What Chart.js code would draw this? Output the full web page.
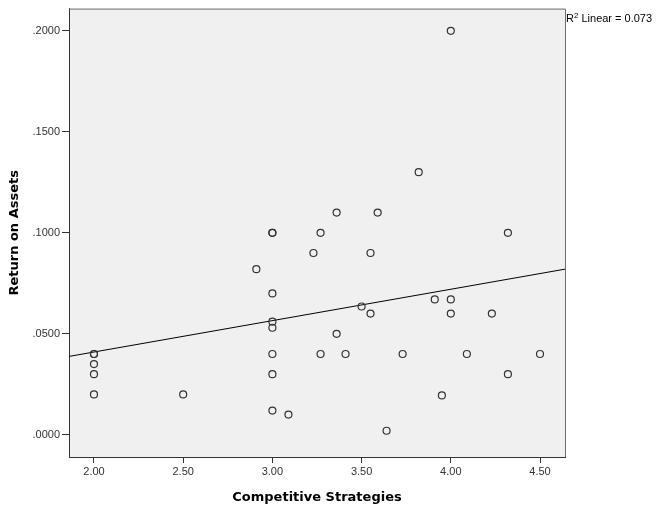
<!DOCTYPE html>
<html>
<head>
<meta charset="utf-8">
<script src="https://cdn.jsdelivr.net/npm/chart.js@4"></script>
<style>
  html, body { margin: 0; padding: 0; background: #fff; }
  #wrap { width: 656px; height: 508px; }
</style>
</head>
<body>
<div id="wrap"><canvas id="roaChart" width="656" height="508"></canvas></div>
<script>
// Competitive Strategies vs Return on Assets
var strategyScores = [2.00, 2.00, 2.00, 2.00, 2.00, 2.50, 2.91, 3.00, 3.00, 3.00, 3.00, 3.00, 3.00, 3.00, 3.00,
                      3.09, 3.23, 3.27, 3.27, 3.36, 3.36, 3.41, 3.50, 3.55, 3.55, 3.59, 3.64, 3.73, 3.82, 3.91,
                      3.95, 4.00, 4.00, 4.00, 4.09, 4.23, 4.32, 4.32, 4.50];
var returnOnAssets = [0.040, 0.040, 0.035, 0.030, 0.020, 0.020, 0.082, 0.100, 0.100, 0.070, 0.056, 0.053, 0.040, 0.030, 0.012,
                      0.010, 0.090, 0.100, 0.040, 0.110, 0.050, 0.040, 0.0635, 0.090, 0.060, 0.110, 0.002, 0.040, 0.130, 0.067,
                      0.0195, 0.200, 0.067, 0.060, 0.040, 0.060, 0.100, 0.030, 0.040];
// fit line endpoints
var fitX = [1.86, 4.64];
var fitY = [0.0388, 0.0820];
var xTicks = [2.00, 2.50, 3.00, 3.50, 4.00, 4.50];
var yTicks = [0.00, 0.05, 0.10, 0.15, 0.20];
var rSquaredText = 'Linear = 0.073';

var fontFamily = '"Liberation Sans", Arial, sans-serif';
var titleFamily = '"DejaVu Sans", Verdana, sans-serif';

var scatterPoints = strategyScores.map(function (x, i) { return { x: x, y: returnOnAssets[i] }; });
var fitPoints = fitX.map(function (x, i) { return { x: x, y: fitY[i] }; });

// grey plot background, frame and the R2 label
var plotFrame = {
    id: 'plotFrame',
    beforeDraw: function (chart) {
        var a = chart.chartArea, ctx = chart.ctx;
        ctx.save();
        ctx.fillStyle = '#f0f0f0';
        ctx.fillRect(a.left, a.top, a.right - a.left, a.bottom - a.top);
        ctx.restore();
    },
    afterDraw: function (chart) {
        var a = chart.chartArea, ctx = chart.ctx;
        ctx.save();
        ctx.strokeStyle = '#6e6e6e';
        ctx.lineWidth = 1;
        ctx.beginPath();
        ctx.moveTo(a.left, a.top + 0.5);
        ctx.lineTo(a.right + 0.5, a.top + 0.5);
        ctx.lineTo(a.right + 0.5, a.bottom);
        ctx.stroke();
        ctx.fillStyle = '#000';
        ctx.textBaseline = 'alphabetic';
        ctx.font = '11px ' + fontFamily;
        var x0 = a.right + 1;
        ctx.fillText('R', x0, 22);
        var w = ctx.measureText('R').width;
        ctx.font = '8px ' + fontFamily;
        ctx.fillText('2', x0 + w, 18);
        var w2 = ctx.measureText('2').width;
        ctx.font = '11px ' + fontFamily;
        ctx.fillText(' ' + rSquaredText, x0 + w + w2, 22);
        ctx.restore();
    }
};

var ctx = document.getElementById('roaChart').getContext('2d');
window.roaChart = new Chart(ctx, {
    type: 'scatter',
    data: {
        datasets: [{
            label: 'Return on Assets',
            data: scatterPoints,
            pointStyle: 'circle',
            pointRadius: 3.5,
            pointBorderWidth: 1.2,
            pointBorderColor: '#333',
            pointBackgroundColor: 'rgba(0,0,0,0)',
            pointHoverRadius: 3.5
        }, {
            label: 'Linear fit',
            data: fitPoints,
            showLine: true,
            borderColor: '#000',
            borderWidth: 1,
            pointRadius: 0,
            fill: false
        }]
    },
    options: {
        responsive: false,
        animation: false,
        layout: { padding: { top: 8, right: 91, left: 0, bottom: 0 } },
        plugins: {
            legend: { display: false },
            tooltip: { enabled: false }
        },
        scales: {
            x: {
                type: 'linear',
                min: 1.86,
                max: 4.64,
                afterBuildTicks: function (scale) {
                    scale.ticks = xTicks.map(function (v) { return { value: v }; });
                },
                afterFit: function (scale) { scale.height = 51; },
                ticks: {
                    padding: 2,
                    color: '#333',
                    font: { family: fontFamily, size: 11 },
                    callback: function (v) { return Number(v).toFixed(2); }
                },
                grid: { drawOnChartArea: false, tickLength: 6, color: '#333' },
                border: { color: '#333', width: 1 },
                title: {
                    display: true,
                    text: 'Competitive Strategies',
                    color: '#000',
                    font: { family: titleFamily, size: 13, weight: 'bold' },
                    padding: { top: 4, bottom: 3 }
                }
            },
            y: {
                type: 'linear',
                min: -0.011,
                max: 0.211,
                afterBuildTicks: function (scale) {
                    scale.ticks = yTicks.map(function (v) { return { value: v }; });
                },
                afterFit: function (scale) { scale.width = 69; },
                ticks: {
                    padding: 2,
                    color: '#333',
                    font: { family: fontFamily, size: 11 },
                    callback: function (v) { return Number(v).toFixed(4).replace(/^0/, ''); }
                },
                grid: { drawOnChartArea: false, tickLength: 7, color: '#333' },
                border: { color: '#333', width: 1 },
                title: {
                    display: true,
                    text: 'Return on Assets',
                    color: '#000',
                    font: { family: titleFamily, size: 13, weight: 'bold' },
                    padding: { top: 7, bottom: 4 }
                }
            }
        }
    },
    plugins: [plotFrame]
});
</script>
</body>
</html>
